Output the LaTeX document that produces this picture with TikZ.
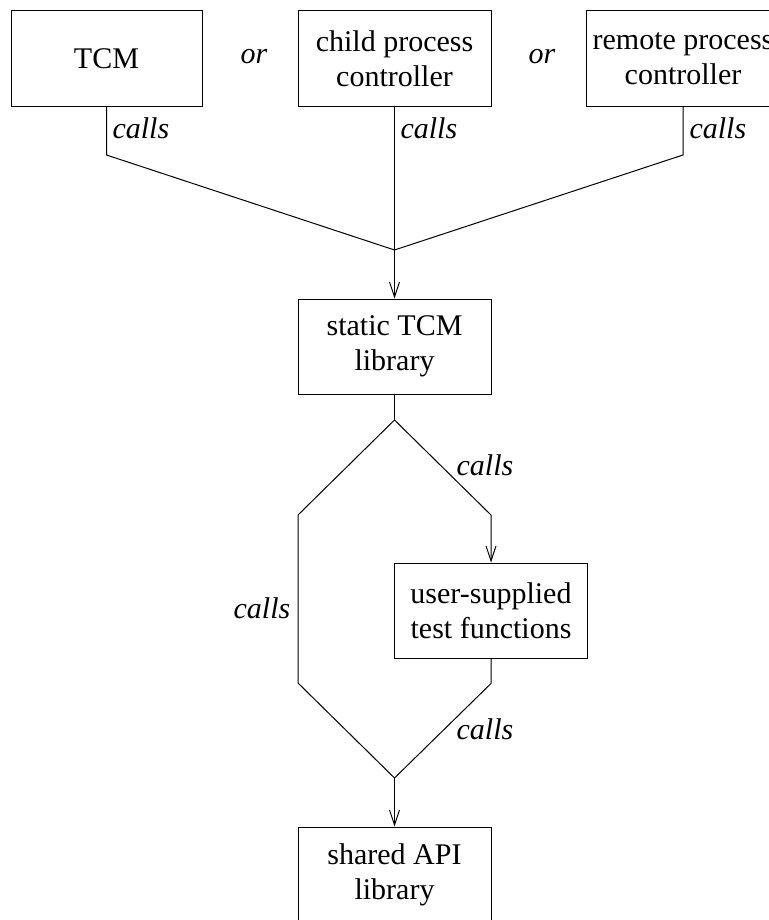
\documentclass[tikz,border=0pt]{standalone}
\usepackage{fontspec}
\setmainfont{Liberation Serif}
\usetikzlibrary{arrows.meta}

\begin{document}
\begin{tikzpicture}[x=1pt, y=-1pt, line width=1pt,
		font=\fontsize{30}{35}\selectfont,
		>={Straight Barb[length=15pt,width=10pt]},
		box/.style={draw, minimum width=193pt, minimum height=96pt, align=center, inner sep=2pt},
		lbl/.style={font=\fontsize{30}{35}\selectfont\itshape, inner sep=0pt}]
			\useasboundingbox (0,0) rectangle (768,920);
			% callers
			\node (tcm) [box, minimum width=191pt] at (106.5,58.5) {TCM};
			\node (child) [box] at (394.5,58.5) {child process\\controller};
			\node (remote) [box] at (683,58.5) {remote process\\controller};
			\node (or1) [lbl] at (254,57) {or};
			\node (or2) [lbl] at (542,57) {or};
			% libraries
			\node (static) [box, minimum height=95pt] at (394.5,346.5) {static TCM\\library};
			\node (user) [box, minimum height=95pt] at (491,610.5) {user-supplied\\test functions};
			\node (shared) [box] at (394.5,875) {shared API\\library};
			\coordinate (merge) at (394.5,250);
			\coordinate (split) at (394.5,420);
			\coordinate (join) at (394.5,778);
			\draw (tcm.south) -- ++(0,48) -- (merge);
			\draw (child.south) -- (merge);
			\draw (remote.south) -- ++(0,48) -- (merge);
			\draw [->] (merge) -- (static.north);
			\draw (static.south) -- (split);
			\draw [->] (split) -- ++(96.5,95) -- (user.north);
			\draw (split) -- ++(-96.5,95) -- ++(0,168) -- (join);
			\draw (user.south) -- ++(0,25) -- (join);
			\draw [->] (join) -- (shared.north);
			\node (c1) [lbl, anchor=west] at (112,128) {calls};
			\node (c2) [lbl, anchor=west] at (400,128) {calls};
			\node (c3) [lbl, anchor=west] at (689,128) {calls};
			\node (c4) [lbl] at (485,465) {calls};
			\node (c5) [lbl] at (262,608) {calls};
			\node (c6) [lbl] at (485,729) {calls};
		\end{tikzpicture}
\end{document}
